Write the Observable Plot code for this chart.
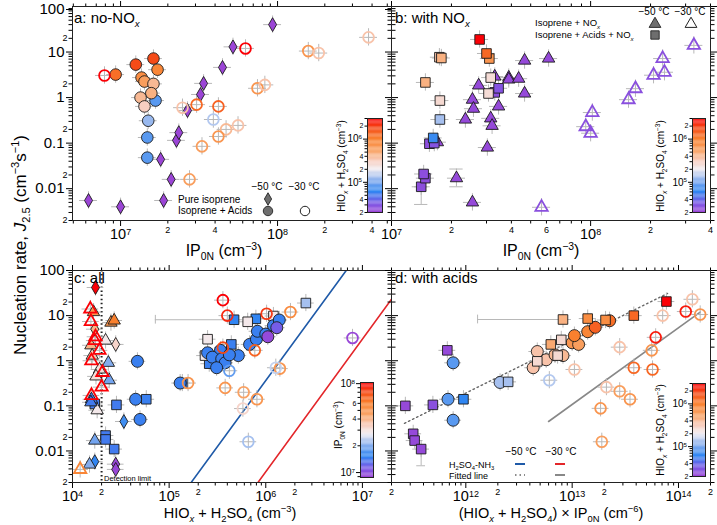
<!DOCTYPE html>
<html><head><meta charset="utf-8">
<script src="https://cdn.jsdelivr.net/npm/d3@7"></script>
<script src="https://cdn.jsdelivr.net/npm/@observablehq/plot@0.6"></script>
<style>
body{margin:0;background:#fff;}
#fig{position:relative;width:717px;height:525px;background:#fff;font-family:"Liberation Sans",Arial,Helvetica,sans-serif;color:#000;overflow:hidden;}
#fig svg{position:absolute;left:0;top:0;}
.t{position:absolute;white-space:nowrap;line-height:1;}
.t sub,.t sup{font-size:0.65em;line-height:0;}
</style></head><body><div id="fig"></div><script>
// ---------------- DATA ----------------
// Panel a (x: IP0N cm-3, y: J2.5, c: HIOx+H2SO4 cm-3)
const aPureIso50 = [[6.25e6,0.0055,2e4],[1e7,0.004,2e4],[1.88e7,0.0055,2e4],[1.8e7,0.044,2e4],[2.1e7,0.016,2e4],[2.27e7,0.115,2e4],[2.35e7,0.17,2e4],[2.67e7,0.52,2e4],[3.23e7,1.17,2e4],[3.38e7,2.05,2e4],[4.46e7,4.6,2e4],[5.2e7,13,2e4],[9.3e7,40,2e4]];
const aAcids50 = [[1.67e7,0.86,8e4],[1.48e7,0.048,8e4],[1.48e7,0.133,8e4],[1.5e7,0.31,1.2e5],[9.3e6,3.2,1.2e6],[1.25e7,5.3,1.8e6],[1.62e7,7.2,1.8e6],[1.72e7,4.1,9e5],[1.36e7,2.75,8e5],[1.42e7,2.25,6e5],[1.62e7,2.0,4e5],[1.57e7,1.25,4.5e5],[1.34e7,1.0,4e5],[1.42e7,0.64,3e5]];
const aAcids30 = [[7.9e6,3.06,3e6],[6.25e7,12,3e6],[2.48e7,0.6,3.5e5],[3.05e7,0.7,1.3e6],[4.2e7,0.64,1.4e6],[3.9e7,0.33,1.4e5],[4.7e7,0.2,4e5],[4.2e7,0.14,7e5],[5.6e7,0.245,3.5e5],[3.3e7,0.085,6e5],[2.75e7,0.016,6e5],[7.45e7,1.6,7e5],[8.3e7,1.9,3.5e5],[1.57e8,10.5,7e5],[1.83e8,9.5,3.5e5],[3.8e8,21,3.5e5]];
// Panel b (x: IP0N, y: J2.5, c: HIOx+H2SO4)
const bNOx50 = [[1.7e7,0.105,2.2e4],[4.66e7,6.5,2.2e4],[6.15e7,7.2,2.2e4],[3.3e7,2.9,2.2e4],[3.88e7,2.75,2.2e4],[3.88e7,2.5,2.2e4],[4.35e7,2.6,2.2e4],[2.74e7,1.85,2.2e4],[4.66e7,1.23,2.2e4],[2.55e7,0.9,2.2e4],[2.58e7,0.57,2.2e4],[3.45e7,0.64,2.2e4],[2.35e7,0.33,2.2e4],[3.15e7,0.35,2.2e4],[3.2e7,0.24,2.2e4],[3.03e7,0.08,2.2e4],[2.12e7,0.017,2.2e4],[2.55e7,0.005,2.2e4]];
const bNOx30 = [[5.67e7,0.0039,2.6e4],[9.45e7,0.23,2.6e4],[1e8,0.165,2.6e4],[1.02e8,0.47,2.6e4],[1.55e8,0.9,2.6e4],[1.68e8,1.57,2.6e4],[2.07e8,3.1,2.6e4],[2.35e8,3.6,2.6e4],[2.3e8,7.2,2.6e4],[3.3e8,14,2.6e4]];
const bAcidsNOx50 = [[1.41e7,0.011,2.5e4],[1.48e7,0.017,2.5e4],[1.45e7,0.021,2.5e4],[1.55e7,0.097,2.5e4],[1.64e7,0.1,2.8e4],[1.62e7,0.13,6.5e4],[1.75e7,0.33,1.3e5],[1.75e7,0.86,2.6e5],[1.48e7,2.15,4.5e5],[1.74e7,7.7,3.5e5],[1.78e7,7.4,4.5e5],[3.3e7,1.3,2.5e4],[3.45e7,1.6,2.8e4],[3.07e7,1.23,2.5e5],[3.15e7,2.75,2.5e5],[3.1e7,7.2,7e5],[3.0e7,9.3,1.3e6],[2.77e7,18.9,3e6]];
const bVErr = [[1.41e7,0.0045,0.011],[2.12e7,0.011,0.027]];
// Panel c (x: HIOx+H2SO4, y: J2.5, c: IP0N)
const cPureIso50 = [[1.73e4,42,1.03e8],[1.7e4,5,4e7],[2.8e4,2.3,3.2e7],[3.4e4,0.045,1.6e7],[1.7e4,0.0058,1.5e7],[2.8e4,0.0051,9e6],[2.8e4,0.0039,9e6]];
const cAcids50 = [[4.7e4,0.97,1.45e7],[4.5e4,0.14,1.45e7],[5.0e4,0.05,1.45e7],[1.3e5,0.32,1.45e7],[2.5e5,1.5,1.45e7],[3.4e5,1.7,1.45e7],[2.8e5,1.2,1.45e7],[3.5e5,1.1,1.45e7],[3.8e5,0.9,1.45e7],[3.1e5,0.7,1.45e7],[5.2e5,1.3,1.45e7],[4.2e5,1.35,1.45e7],[6.8e5,2.3,1.45e7],[8e5,3.0,1.45e7],[8.2e5,4.5,1.45e7],[1.0e6,3.9,1.45e7],[1.2e6,6,1.45e7],[1.38e6,8,1.45e7],[1.3e6,5.4,1.15e7],[1.05e6,3.4,9.3e6]];
const cAcids30 = [[3.6e5,22,1.03e8],[4.0e5,10,9e7],[3.6e5,1.95,8e7],[1.02e6,11,8.5e7],[7.7e5,1.7,7e7],[1.8e6,12,5.5e7],[1.4e6,0.67,5e7],[3.8e5,0.25,5e7],[5.9e5,0.2,4.5e7],[8.1e5,0.14,5e7],[5.8e5,0.087,3.2e7],[1.27e6,0.7,2.4e7],[6.6e5,0.016,2.2e7],[4.2e5,0.6,1.8e7],[1.57e5,0.32,5e7],[7.9e6,3.2,9e6]];
const cNOx50 = [[1.65e4,12,5e7],[2.5e4,7.0,5e7],[2.7e4,7.8,6e7],[1.55e4,2.2,4e7],[2.2e4,2.8,2.8e7],[1.6e4,1.3,3.5e7],[2.35e4,0.9,2e7],[1.9e4,0.64,3e7],[1.75e4,0.45,3e7],[2.4e4,0.37,1.9e7],[1.8e4,0.08,2.8e7],[1.57e4,0.14,1.4e7],[1.55e4,0.12,1.4e7],[1.7e4,0.017,1.9e7],[1.5e4,0.005,2e7]];
const cNOx30 = [[1.53e4,14,1.03e8],[1.55e4,7.4,1.03e8],[1.73e4,3.4,1.03e8],[1.7e4,2.8,1.03e8],[1.9e4,1.7,1.03e8],[1.57e4,1.0,1.03e8],[2.04e4,0.55,1.03e8],[2.0e4,0.26,1.03e8],[1.57e4,0.17,1.03e8],[1.2e4,0.0039,5.7e7]];
const cAcidsNOx50 = [[1.7e4,0.11,1.4e7],[2.85e4,0.105,1.4e7],[2.2e4,0.022,1.4e7],[2.2e4,0.018,1.4e7],[2.7e4,0.011,1.4e7],[5.8e4,0.14,1.45e7],[1.37e5,0.32,1.45e7],[2.6e5,0.86,1.45e7],[4.4e5,2.3,1.45e7],[2.35e5,1.3,2.8e7],[2.5e5,3,2.8e7],[4.7e5,8.1,1.5e7],[7.9e5,8.5,1.5e7],[6.5e5,7.3,2.8e7],[1.2e6,9.8,2.8e7],[2.6e6,19,2.2e7]];
const cHErr = [[8.1,7.2e4,4.7e5]];
const cDetectionLimit = [2e4];
const cNH3m50 = [[1.69e5,0.002],[6.8e6,100]];
const cNH3m30 = [[8.3e5,0.002],[2.0e7,23]];
// Panel d (x: (HIOx+H2SO4)*IP0N cm-6, y: J2.5, c: HIOx+H2SO4)
const dAcids50 = [[7.6e11,0.9,8e4],[6.8e11,0.14,8e4],[7.6e11,0.048,8e4],[2.1e12,0.33,1.3e5],[4.7e12,1.6,3.5e5],[4.3e12,0.7,3.5e5],[5.7e12,1.05,3.5e5],[6.9e12,1.35,4e5],[8.2e12,1.3,4e5],[1.0e13,2.5,7e5],[1.15e13,2.3,6e5],[1.05e13,3.6,1e6],[1.4e13,4.4,9e5],[1.65e13,5.5,1.4e6],[2.25e13,7.7,1.2e6]];
const dAcidsNOx50 = [[6.7e11,1.7,2.2e4],[9.5e11,0.14,6e4],[2.7e11,0.1,2.2e4],[4.9e11,0.105,2.6e4],[3.2e11,0.024,2.2e4],[3.3e11,0.017,2.2e4],[3.8e11,0.011,2.2e4],[2.5e12,0.34,1.3e5],[4.7e12,0.97,2.6e5],[7.3e12,1.3,2.6e5],[6.3e12,2.3,5e5],[7.9e12,2.9,2.6e5],[8.2e12,8.2,4.5e5],[1.4e13,8.6,8e5],[2.06e13,8,8e5],[3.8e13,10,1.3e6],[7.7e13,20.5,3e6]];
const dAcids30 = [[1.17e14,12.3,2.5e6],[1.6e14,10.6,7e5],[1.35e14,23,3.5e5],[7.1e13,10,3.5e5],[6.1e13,3.3,2.5e6],[5.6e13,1.7,7e5],[2.8e13,2,3.5e5],[3.8e13,0.7,1.3e6],[5.7e13,0.64,1.3e6],[1.05e13,0.64,3.5e5],[6.1e12,0.37,1.4e5],[2.1e13,0.26,3.5e5],[2.8e13,0.21,6e5],[3.5e13,0.14,7e5],[1.85e13,0.088,7e5],[1.9e13,0.016,6e5]];
const dHErr = [[8.2,1.29e12,8.2e12]];
const dVErr = [[3.8e11,0.0047,0.011]];
const dFit50 = [[2.65e11,0.041],[7.9e13,31]];
const dFit30 = [[6.0e12,0.045],[1.6e14,12]];
// Tick values
const Y_MAJOR = [0.01,0.1,1,10,100];
const Y_MINOR_LAB = [0.002,0.004,0.006,0.02,0.04,0.06,0.2,0.4,0.6,2,4,6,20,40,60];
const Y_MINOR = [0.003,0.005,0.007,0.008,0.009,0.03,0.05,0.07,0.08,0.09,0.3,0.5,0.7,0.8,0.9,3,5,7,8,9,30,50,70,80,90];
const aXMajor = [1e7,1e8], aXLab = [6e6,8e6,2e7,4e7,6e7,8e7,2e8,4e8], aXMinor = [5e6,7e6,9e6,3e7,5e7,7e7,9e7,3e8,5e8];
const bXMajor = [1e7,1e8], bXLab = [2e7,4e7,6e7,8e7,2e8,4e8], bXMinor = [3e7,5e7,7e7,9e7,3e8];
const cXMajor = [1e4,1e5,1e6,1e7], cXLab = [2e4,4e4,6e4,2e5,4e5,6e5,2e6,4e6,6e6], cXMinor = [3e4,5e4,7e4,8e4,9e4,3e5,5e5,7e5,8e5,9e5,3e6,5e6,7e6,8e6,9e6];
const dXMajor = [1e12,1e13,1e14], dXLab = [2e11,4e11,6e11,2e12,4e12,6e12,2e13,4e13,6e13,2e14], dXMinor = [3e11,5e11,7e11,8e11,9e11,3e12,5e12,7e12,8e12,9e12,3e13,5e13,7e13,8e13,9e13];
const HIO_DOMAIN = [2e4, 3e6], IP_DOMAIN = [8.8e6, 1.03e8];
const cbHMajor = [1e5,1e6], cbHLab = [2e4,4e4,6e4,2e5,4e5,6e5,2e6], cbHMinor = [3e4,5e4,7e4,8e4,9e4,3e5,5e5,7e5,8e5,9e5,3e6];
const cbIMajor = [1e7,1e8], cbILab = [2e7,4e7,6e7], cbIMinor = [9e6,3e7,5e7,7e7,8e7,9e7];

// ---------------- STYLE / HELPERS ----------------
const FONT = '"Liberation Sans", Arial, Helvetica, sans-serif';
const W = 717, H = 525;
const STYLE = {background: "transparent", overflow: "visible", fontFamily: FONT, color: "#000"};
const RAMP_T = [0, 0.1, 0.22, 0.33, 0.46, 0.55, 0.65, 0.78, 0.9, 1];
const RAMP_C = ["#9b45d6","#7a5ae6","#2f86f2","#80aaee","#f2ecf0","#f8cbbb","#f9a66a","#f9802e","#f54a18","#fb0006"];
const rampScale = d3.scaleLinear().domain(RAMP_T).range(RAMP_C).interpolate(d3.interpolateRgb).clamp(true);
const RAMP = t => rampScale(t);
const ERR = "#b8b8b8";
const none = () => "";
const digit = d => String(Math.round(d / 10 ** Math.floor(Math.log10(d) + 1e-9)));
const sup10 = d => "10^" + Math.round(Math.log10(d));
const fmtY = d => String(d);
const fig = document.getElementById("fig");

function axes(xM, xL, xm, showY, topDy) {
  return [
    Plot.axisY({anchor: "left", ticks: Y_MAJOR.slice(0, -1), tickSize: 6, tickPadding: 2, fontSize: 15, tickFormat: showY ? fmtY : none, label: null}),
    Plot.axisY({anchor: "left", ticks: Y_MAJOR.slice(-1), tickSize: 6, tickPadding: 2, fontSize: 15, dy: topDy, tickFormat: showY ? fmtY : none, label: null}),
    Plot.axisY({anchor: "left", ticks: Y_MINOR_LAB, tickSize: 3.5, tickPadding: 1.5, fontSize: 9, tickFormat: showY ? digit : none, label: null}),
    Plot.axisY({anchor: "left", ticks: Y_MINOR, tickSize: 3.5, tickFormat: none, label: null}),
    Plot.axisY({anchor: "right", ticks: Y_MAJOR, tickSize: 6, tickFormat: none, label: null}),
    Plot.axisY({anchor: "right", ticks: [...Y_MINOR_LAB, ...Y_MINOR], tickSize: 3.5, tickFormat: none, label: null}),
    Plot.axisX({anchor: "bottom", ticks: xM, tickSize: 6, tickPadding: 2.5, fontSize: 14.5, tickFormat: sup10, label: null}),
    Plot.axisX({anchor: "bottom", ticks: xL, tickSize: 3.5, tickPadding: 2.5, fontSize: 9, tickFormat: digit, label: null}),
    Plot.axisX({anchor: "bottom", ticks: xm, tickSize: 3.5, tickFormat: none, label: null}),
    Plot.axisX({anchor: "top", ticks: xM, tickSize: 6, tickFormat: none, label: null}),
    Plot.axisX({anchor: "top", ticks: [...xL, ...xm], tickSize: 3.5, tickFormat: none, label: null})
  ];
}
function crosses(data, ex, ey) {
  return [
    Plot.ruleY(data, {y: d => d[1], x1: d => d[0] / ex, x2: d => d[0] * ex, stroke: ERR, strokeWidth: 1}),
    Plot.ruleX(data, {x: d => d[0], y1: d => d[1] / ey, y2: d => d[1] * ey, stroke: ERR, strokeWidth: 1})
  ];
}
function filled(data, symbol, r) {
  return Plot.dot(data, {x: d => d[0], y: d => d[1], fill: d => d[2], stroke: "#1a1a1a", strokeWidth: 0.9, symbol, r});
}
function open(data, symbol, r) {
  return Plot.dot(data, {x: d => d[0], y: d => d[1], stroke: d => d[2], fill: "none", strokeWidth: 1.8, symbol, r});
}
function panel(o) {
  const svg = Plot.plot({
    width: W, height: H,
    marginLeft: o.l, marginRight: W - o.r, marginTop: o.t, marginBottom: H - o.b,
    style: STYLE,
    x: {type: "log", domain: o.xd, axis: null},
    y: {type: "log", domain: [0.002, 100], axis: null},
    color: {type: "log", domain: o.cd, interpolate: RAMP, clamp: true},
    marks: [...axes(o.xM, o.xL, o.xm, o.showY, o.t < 20 ? 3 : 0), ...o.marks, Plot.frame({stroke: "#222", strokeWidth: 1})]
  });
  fig.appendChild(svg);
}
function colorbar(o) {
  const lo = Math.log10(o.domain[0]), hi = Math.log10(o.domain[1]), N = 80;
  const strips = d3.range(N).map(i => [10 ** (lo + (hi - lo) * i / N), 10 ** (lo + (hi - lo) * Math.min(N, i + 1.05) / N)]);
  const svg = Plot.plot({
    width: W, height: H,
    marginLeft: o.l, marginRight: W - o.r, marginTop: o.t, marginBottom: H - o.b,
    style: STYLE,
    x: {domain: [0, 1], axis: null},
    y: {type: "log", domain: o.domain, axis: null},
    color: {type: "log", domain: o.domain, interpolate: RAMP, clamp: true},
    marks: [
      Plot.rect(strips, {x1: 0, x2: 1, y1: d => d[0], y2: d => d[1], fill: d => Math.sqrt(d[0] * d[1])}),
      Plot.frame({stroke: "#222"}),
      Plot.axisY({anchor: "left", ticks: o.major, tickSize: 4, tickPadding: 1.5, fontSize: 10, tickFormat: sup10, label: null}),
      Plot.axisY({anchor: "left", ticks: o.lab, tickSize: 2.5, tickPadding: 1.5, fontSize: 7, tickFormat: digit, label: null}),
      Plot.axisY({anchor: "left", ticks: o.minor, tickSize: 2.5, tickFormat: none, label: null})
    ]
  });
  fig.appendChild(svg);
}
function txt(html, x, y, size, anchor = "c", rot = 0) {
  const d = document.createElement("div");
  d.className = "t"; d.innerHTML = html;
  d.style.left = x + "px"; d.style.top = y + "px"; d.style.fontSize = size + "px";
  const tx = anchor === "l" ? "0" : anchor === "r" ? "-100%" : "-50%";
  d.style.transform = `translate(${tx},-50%)` + (rot ? ` rotate(${rot}deg)` : "");
  fig.appendChild(d);
}

// ---------------- PANELS ----------------
const EY = 1.55;
panel({l: 72, r: 391, t: 6, b: 220, xd: [4.94e6, 5.32e8], cd: HIO_DOMAIN, xM: aXMajor, xL: aXLab, xm: aXMinor, showY: true,
  marks: [
    ...crosses([...aPureIso50, ...aAcids50, ...aAcids30], 1.14, EY),
    filled(aPureIso50, "diamond", 4.2),
    filled(aAcids50, "circle", 5.8),
    open(aAcids30, "circle", 5.4)
  ]});
panel({l: 391, r: 710, t: 6, b: 220, xd: [1e7, 4e8], cd: HIO_DOMAIN, xM: bXMajor, xL: bXLab, xm: bXMinor, showY: false,
  marks: [
    ...crosses([...bNOx50, ...bNOx30, ...bAcidsNOx50], 1.11, EY),
    Plot.ruleX(bVErr, {x: d => d[0], y1: d => d[1], y2: d => d[2], stroke: ERR}),
    Plot.ruleY(bVErr, {y: d => d[1], x1: d => d[0] / 1.08, x2: d => d[0] * 1.08, stroke: ERR}),
    Plot.ruleY(bVErr, {y: d => d[2], x1: d => d[0] / 1.08, x2: d => d[0] * 1.08, stroke: ERR}),
    filled(bNOx50, "triangle", 4.6),
    open(bNOx30, "triangle", 4.6),
    filled(bAcidsNOx50, "square", 5.4)
  ]});
panel({l: 72, r: 391, t: 270, b: 482, xd: [1e4, 2e7], cd: IP_DOMAIN, xM: cXMajor, xL: cXLab, xm: cXMinor, showY: true,
  marks: [
    Plot.line(cNH3m50, {x: d => d[0], y: d => d[1], stroke: "#1f5aa8", strokeWidth: 1.6, clip: true}),
    Plot.line(cNH3m30, {x: d => d[0], y: d => d[1], stroke: "#e3262a", strokeWidth: 1.6, clip: true}),
    Plot.ruleX(cDetectionLimit, {x: d => d, stroke: "#222", strokeWidth: 2, strokeDasharray: "1.5,2.6"}),
    ...crosses([...cPureIso50, ...cAcids50, ...cAcids30, ...cNOx50, ...cNOx30, ...cAcidsNOx50], 1.22, EY),
    Plot.ruleY(cHErr, {y: d => d[0], x1: d => d[1], x2: d => d[2], stroke: ERR}),
    Plot.ruleX(cHErr, {x: d => d[1], y1: d => d[0] / 1.25, y2: d => d[0] * 1.25, stroke: ERR}),
    filled(cAcidsNOx50, "square", 5.4),
    filled(cAcids50, "circle", 6),
    filled(cPureIso50, "diamond", 4.2),
    filled(cNOx50, "triangle", 4.6),
    open(cAcids30, "circle", 5.4),
    open(cNOx30, "triangle", 4.6)
  ]});
panel({l: 391, r: 710, t: 270, b: 482, xd: [2e11, 2e14], cd: HIO_DOMAIN, xM: dXMajor, xL: dXLab, xm: dXMinor, showY: false,
  marks: [
    Plot.line(dFit50, {x: d => d[0], y: d => d[1], stroke: "#666", strokeWidth: 1.4, strokeDasharray: "1.5,3", clip: true}),
    Plot.line(dFit30, {x: d => d[0], y: d => d[1], stroke: "#888", strokeWidth: 1.6, clip: true}),
    ...crosses([...dAcids50, ...dAcidsNOx50, ...dAcids30], 1.2, EY),
    Plot.ruleY(dHErr, {y: d => d[0], x1: d => d[1], x2: d => d[2], stroke: ERR}),
    Plot.ruleX(dHErr, {x: d => d[1], y1: d => d[0] / 1.25, y2: d => d[0] * 1.25, stroke: ERR}),
    Plot.ruleX(dVErr, {x: d => d[0], y1: d => d[1], y2: d => d[2], stroke: ERR}),
    Plot.ruleY(dVErr, {y: d => d[1], x1: d => d[0] / 1.1, x2: d => d[0] * 1.1, stroke: ERR}),
    filled(dAcids50, "circle", 6),
    filled(dAcidsNOx50, "square", 5.4),
    open(dAcids30, "circle", 5.4)
  ]});

// ---------------- COLORBARS ----------------
colorbar({l: 367, r: 382, t: 118, b: 212, domain: HIO_DOMAIN, major: cbHMajor, lab: cbHLab, minor: cbHMinor});
colorbar({l: 692, r: 705, t: 118, b: 212, domain: HIO_DOMAIN, major: cbHMajor, lab: cbHLab, minor: cbHMinor});
colorbar({l: 360, r: 373, t: 382, b: 477, domain: IP_DOMAIN, major: cbIMajor, lab: cbILab, minor: cbIMinor});
colorbar({l: 692, r: 705, t: 383, b: 476, domain: HIO_DOMAIN, major: cbHMajor, lab: cbHLab, minor: cbHMinor});

// superscripts in tick labels
fig.querySelectorAll("svg text").forEach(el => {
  const m = /^10\^(-?\d+)$/.exec(el.textContent);
  if (m) {
    el.textContent = "10";
    const ts = document.createElementNS("http://www.w3.org/2000/svg", "tspan");
    ts.setAttribute("dy", "-0.5em"); ts.setAttribute("font-size", "0.62em");
    ts.textContent = m[1]; el.appendChild(ts);
  }
});

// ---------------- LEGEND GLYPHS ----------------
const lg = d3.select(fig).append("svg").attr("width", W).attr("height", H);
const sym = (type, size, x, y, fill, stroke, sw) => lg.append("path").attr("d", d3.symbol(type, size)()).attr("transform", `translate(${x},${y})`).attr("fill", fill).attr("stroke", stroke).attr("stroke-width", sw);
sym(d3.symbolDiamond, 45, 268, 199, "#6e6e6e", "#222", 0.9);
sym(d3.symbolCircle, 70, 268, 211, "#6e6e6e", "#222", 0.9);
sym(d3.symbolCircle, 70, 305, 211, "none", "#222", 1);
sym(d3.symbolTriangle, 60, 655, 24, "#6e6e6e", "#222", 0.9);
sym(d3.symbolSquare, 70, 655, 35, "#6e6e6e", "#222", 0.9);
sym(d3.symbolTriangle, 60, 691, 24, "none", "#222", 1);
const ln = (x1, x2, y, stroke, sw, dash) => lg.append("line").attr("x1", x1).attr("x2", x2).attr("y1", y).attr("y2", y).attr("stroke", stroke).attr("stroke-width", sw).attr("stroke-dasharray", dash);
ln(515, 525, 464, "#1f5aa8", 2, null);
ln(555, 565, 464, "#e3262a", 2, null);
ln(515, 525, 475, "#666", 1.6, "1.5,3");
ln(555, 565, 475, "#888", 2, null);

// ---------------- TEXT ----------------
txt('a: no-NO<sub><i>x</i></sub>', 74, 17, 15, "l");
txt('b: with NO<sub><i>x</i></sub>', 395, 17, 15, "l");
txt('c: all', 74, 277, 15, "l");
txt('d: with acids', 395, 277, 15, "l");
txt('IP<sub>0N</sub> (cm<sup>−3</sup>)', 224, 251, 16);
txt('IP<sub>0N</sub> (cm<sup>−3</sup>)', 541, 251, 16);
txt('HIO<sub><i>x</i></sub> + H<sub>2</sub>SO<sub>4</sub> (cm<sup>−3</sup>)', 230, 513, 14.5);
txt('(HIO<sub><i>x</i></sub> + H<sub>2</sub>SO<sub>4</sub>) × IP<sub>0N</sub> (cm<sup>−6</sup>)', 551, 513, 14.5);
txt('Nucleation rate, <i>J</i><sub>2.5</sub> (cm<sup>−3</sup>s<sup>−1</sup>)', 20, 245, 17, "c", -90);
const hioLab = 'HIO<sub><i>x</i></sub> + H<sub>2</sub>SO<sub>4</sub> (cm<sup>−3</sup>)';
txt(hioLab, 342, 166, 10, "c", -90);
txt(hioLab, 661, 166, 10, "c", -90);
txt('IP<sub>0N</sub> (cm<sup>−3</sup>)', 339, 425, 10, "c", -90);
txt(hioLab, 661, 430, 10, "c", -90);
txt('−50 °C', 267, 187, 10);
txt('−30 °C', 304, 187, 10);
txt('Pure isoprene', 178, 200, 10, "l");
txt('Isoprene + Acids', 178, 211, 10, "l");
txt('−50 °C', 654, 12, 10);
txt('−30 °C', 690, 12, 10);
txt('Isoprene + NO<sub><i>x</i></sub>', 535, 23, 9.5, "l");
txt('Isoprene + Acids + NO<sub><i>x</i></sub>', 535, 35, 9.5, "l");
txt('−50 °C', 521, 452, 10);
txt('−30 °C', 561, 452, 10);
txt('H<sub>2</sub>SO<sub>4</sub>-NH<sub>3</sub>', 449, 465, 9, "l");
txt('Fitted line', 449, 476, 9, "l");
txt('Detection limit', 104, 479, 7.5, "l");
</script></body></html>
